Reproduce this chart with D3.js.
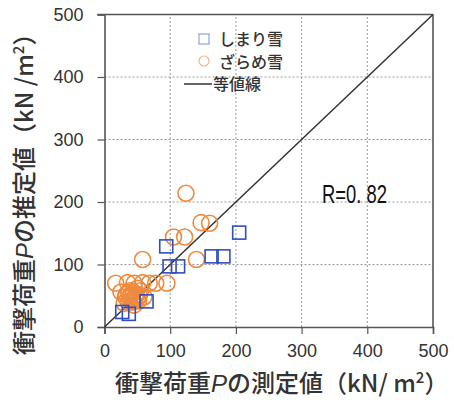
<!DOCTYPE html>
<html>
<head>
<meta charset="utf-8">
<script src="https://cdn.jsdelivr.net/npm/d3@7"></script>
<style>
  body { margin: 0; background: #fff; }
  svg { display: block; }
  text { font-family: "Liberation Sans", Arial, sans-serif; }
  .jp { font-family: "Noto Sans CJK JP", sans-serif; font-weight: 500; }
</style>
</head>
<body>
<svg id="chart" width="454" height="405"></svg>
<script>
// Measured vs estimated impact load (kN/m²)
const shimari = [ // しまり雪 [measured, estimated]
  [205,151],[94,129],[163,113],[181,113],[99,97],[112,97],
  [64,41],[27,24],[37,21]
];
const zarame = [ // ざらめ雪 [measured, estimated]
  [124,214],[147,167],[160,166],[105,144],[122,144],[58,108],[140,108],
  [17,70],[35,71],[45,70],[58,71],[68,70],[78,70],[95,70],
  [25,56],[32,48],[38,58],[42,44],[48,52],[52,42],[36,40],[55,58],
  [45,35],[60,48],[30,38],[50,62],[40,50],
  [33,52],[38,46],[44,56],[47,47],[53,50],[41,53],[36,55],[50,45],[43,40]
];
const ticks = [0, 100, 200, 300, 400, 500];
const rText = "R=0. 82";

const svg = d3.select("#chart");
const x = d3.scaleLinear().domain([0, 500]).range([104.5, 433]);
const y = d3.scaleLinear().domain([0, 500]).range([327, 14.5]);

const blue = "#2f4fc0", orange = "#ef8a3e", axisCol = "#555";

// dotted grid
const grid = svg.append("g").attr("stroke", "#999").attr("stroke-width", 1)
  .attr("stroke-dasharray", "2,2");
grid.selectAll(".gx").data(ticks.slice(1, -1)).join("line")
  .attr("x1", d => x(d)).attr("x2", d => x(d)).attr("y1", y(0)).attr("y2", y(500));
grid.selectAll(".gy").data(ticks.slice(1, -1)).join("line")
  .attr("y1", d => y(d)).attr("y2", d => y(d)).attr("x1", x(0)).attr("x2", x(500));

// axes
const xAxis = svg.append("g").attr("transform", `translate(0,${y(0)})`)
  .call(d3.axisBottom(x).tickValues(ticks).tickSize(7).tickPadding(10));
const yAxis = svg.append("g").attr("transform", `translate(${x(0)},0)`)
  .call(d3.axisLeft(y).tickValues(ticks).tickSize(7).tickPadding(14));
[xAxis, yAxis].forEach(a => {
  a.select(".domain").attr("stroke", axisCol).attr("stroke-width", 1.6);
  a.selectAll(".tick line").attr("stroke", axisCol).attr("stroke-width", 1.2);
  a.selectAll(".tick text").attr("fill", "#333").style("font-size", "18px")
    .style("font-family", "'Liberation Sans', Arial, sans-serif");
});
// top and right frame
svg.append("line").attr("x1", x(0) - 7).attr("x2", x(500)).attr("y1", y(500)).attr("y2", y(500))
  .attr("stroke", axisCol).attr("stroke-width", 1.6);
svg.append("line").attr("x1", x(500)).attr("x2", x(500)).attr("y1", y(500)).attr("y2", y(0))
  .attr("stroke", axisCol).attr("stroke-width", 1.6);

// 1:1 line
svg.append("line").attr("x1", x(0)).attr("y1", y(0)).attr("x2", x(500)).attr("y2", y(500))
  .attr("stroke", "#333").attr("stroke-width", 1.5);

// markers
svg.append("g").selectAll("circle").data(zarame).join("circle")
  .attr("cx", d => x(d[0])).attr("cy", d => y(d[1])).attr("r", 8)
  .attr("fill", "none").attr("stroke", orange).attr("stroke-width", 1.6);
const s = 13;
svg.append("g").selectAll("rect").data(shimari).join("rect")
  .attr("x", d => x(d[0]) - s / 2).attr("y", d => y(d[1]) - s / 2)
  .attr("width", s).attr("height", s)
  .attr("fill", "none").attr("stroke", blue).attr("stroke-width", 1.6);

// legend
const lg = svg.append("g");
lg.append("rect").attr("x", 199).attr("y", 34).attr("width", 10).attr("height", 10)
  .attr("fill", "none").attr("stroke", "#8fa2e0").attr("stroke-width", 1.2);
lg.append("circle").attr("cx", 204).attr("cy", 61).attr("r", 5)
  .attr("fill", "none").attr("stroke", "#f5b58a").attr("stroke-width", 1.2);
lg.append("line").attr("x1", 184).attr("x2", 212).attr("y1", 84).attr("y2", 84)
  .attr("stroke", "#333").attr("stroke-width", 1.5);
const legendItems = [["しまり雪", 219, 39], ["ざらめ雪", 219, 62], ["等値線", 213, 84]];
lg.selectAll("text").data(legendItems).join("text").attr("class", "jp")
  .attr("x", d => d[1]).attr("y", d => d[2]).attr("dy", "0.36em")
  .attr("fill", "#333").style("font-size", "16px").text(d => d[0]);

// correlation label
svg.append("text").attr("x", 322).attr("y", 203).attr("fill", "#111")
  .attr("textLength", 65).attr("lengthAdjust", "spacingAndGlyphs")
  .style("font-size", "26px").text(rText);

// axis titles
const xt = svg.append("text").attr("class", "jp").attr("x", 115).attr("y", 392)
  .attr("fill", "#333").style("font-size", "24px");
xt.append("tspan").text("衝撃荷重");
xt.append("tspan").style("font-style", "italic").style("font-family", "'Liberation Sans', Arial").text("P");
xt.append("tspan").text("の測定値（kN/ m");
xt.append("tspan").attr("dy", -9).style("font-size", "15px").text("2");
xt.append("tspan").attr("dy", 9).text("）");

const yt = svg.append("text").attr("class", "jp")
  .attr("transform", "translate(33,355) rotate(-90)")
  .attr("fill", "#333").style("font-size", "24px");
yt.append("tspan").text("衝撃荷重");
yt.append("tspan").style("font-style", "italic").style("font-family", "'Liberation Sans', Arial").text("P");
yt.append("tspan").text("の推定値（kN /m");
yt.append("tspan").attr("dy", -9).style("font-size", "15px").text("2");
yt.append("tspan").attr("dy", 9).text("）");
</script>
</body>
</html>
